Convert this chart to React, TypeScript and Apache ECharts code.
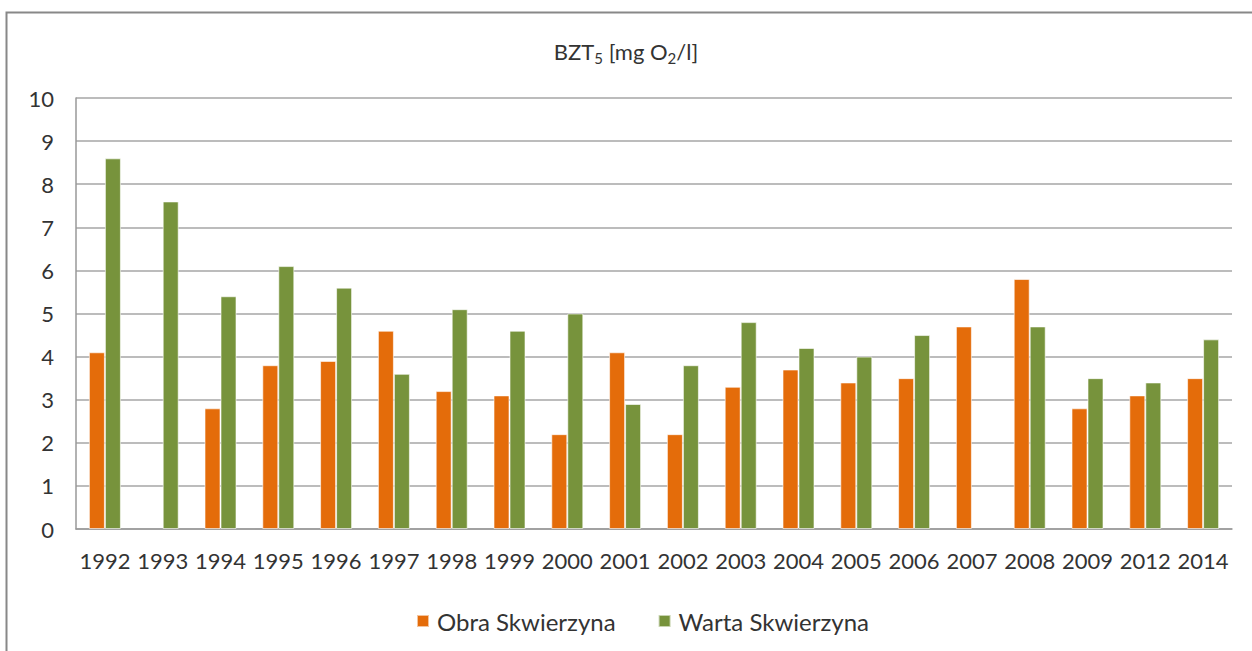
import React, { useEffect, useRef } from "react";
import * as echarts from "echarts";

const categories = ["1992", "1993", "1994", "1995", "1996", "1997", "1998", "1999", "2000", "2001", "2002", "2003", "2004", "2005", "2006", "2007", "2008", "2009", "2012", "2014"];
const obraValues: (number | null)[] = [4.1, null, 2.8, 3.8, 3.9, 4.6, 3.2, 3.1, 2.2, 4.1, 2.2, 3.3, 3.7, 3.4, 3.5, 4.7, 5.8, 2.8, 3.1, 3.5];
const wartaValues: (number | null)[] = [8.6, 7.6, 5.4, 6.1, 5.6, 3.6, 5.1, 4.6, 5.0, 2.9, 3.8, 4.8, 4.2, 4.0, 4.5, null, 4.7, 3.5, 3.4, 4.4];
const seriesNames = ["Obra Skwierzyna", "Warta Skwierzyna"];

const FONT = "Lato, 'Open Sans', sans-serif";
const TEXT = "#333333";

export default function App() {
  const ref = useRef<HTMLDivElement>(null);
  useEffect(() => {
    if (!ref.current) return;
    const chart = echarts.init(ref.current, undefined, { renderer: "svg" });
    chart.setOption({
      animation: false,
      backgroundColor: "#ffffff",
      textStyle: { fontFamily: FONT },
      graphic: [
        {
          type: "rect",
          shape: { x: 6.5, y: 12.5, width: 1400, height: 800 },
          style: { fill: "none", stroke: "#888888", lineWidth: 2 },
          silent: true,
        },
      ],
      title: {
        text: "{a|BZT}{s|5}{a| [mg O}{s|2}{a|/l]}",
        left: "center",
        top: 32,
        textStyle: {
          fontWeight: "normal",
          rich: {
            a: { fontFamily: FONT, fontSize: 22, fontWeight: "normal", color: TEXT, lineHeight: 28 },
            s: { fontFamily: FONT, fontSize: 15, fontWeight: "normal", color: TEXT, lineHeight: 28, verticalAlign: "bottom" },
          },
        },
      },
      legend: {
        data: seriesNames,
        top: 604,
        left: 411,
        icon: "rect",
        itemWidth: 12,
        itemHeight: 12,
        itemGap: 42,
        textStyle: { fontFamily: FONT, fontSize: 24, color: TEXT, padding: [0, 0, 0, 3] },
      },
      grid: { left: 76, right: 20, top: 98, bottom: 122, containLabel: false },
      xAxis: {
        type: "category",
        data: categories,
        axisLine: { show: true, lineStyle: { color: "#999999", width: 1.5 } },
        axisTick: { show: false },
        axisLabel: { fontFamily: FONT, fontSize: 22, color: TEXT, margin: 20, interval: 0 },
      },
      yAxis: {
        type: "value",
        min: 0,
        max: 10,
        interval: 1,
        axisLine: { show: true, lineStyle: { color: "#999999", width: 1.5 } },
        axisTick: { show: false },
        axisLabel: { fontFamily: FONT, fontSize: 22, color: TEXT, margin: 22 },
        splitLine: { show: true, lineStyle: { color: "#a6a6a6", width: 1.5 } },
      },
      series: [
        {
          name: seriesNames[0],
          type: "bar",
          data: obraValues,
          barWidth: 16,
          barGap: "0%",
          itemStyle: { color: "#E46C0A", borderColor: "rgba(255,255,255,0.6)", borderWidth: 1 },
        },
        {
          name: seriesNames[1],
          type: "bar",
          data: wartaValues,
          barWidth: 16,
          barGap: "0%",
          itemStyle: { color: "#77933C", borderColor: "rgba(255,255,255,0.6)", borderWidth: 1 },
        },
      ],
    });
    return () => chart.dispose();
  }, []);
  return <div ref={ref} style={{ position: "fixed", left: 0, top: 0, width: 1252, height: 651 }} />;
}
